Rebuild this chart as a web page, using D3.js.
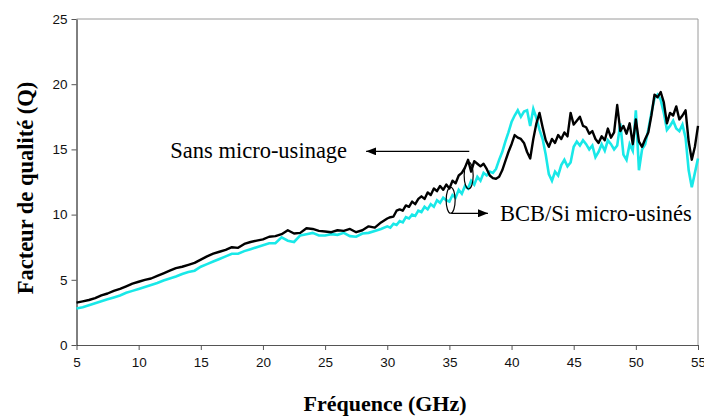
<!DOCTYPE html>
<html><head><meta charset="utf-8">
<script src="https://cdn.jsdelivr.net/npm/d3@7"></script>
<style>body{margin:0;background:#fff}svg{display:block}</style>
</head><body>
<svg id="chart" width="704" height="417"></svg>
<script>
// ---- data ----
const freqLow = [5,5.5,6,6.5,7,7.5,8,8.5,9,9.5,10,10.5,11,11.5,12,12.5,13,13.5,14,14.5,15,15.5,16,16.5,17,17.5,18,18.5,19,19.5,20,20.5,21,21.5,22,22.5,23,23.5,24,24.5,25,25.5,26,26.5,27,27.5,28,28.5,29,29.5,30];
const freqHigh = [30.25,30.5,30.75,31,31.25,31.5,31.75,32,32.25,32.5,32.75,33,33.25,33.5,33.75,34,34.25,34.5,34.75,35,35.25,35.5,35.75,36,36.25,36.5,36.75,37,37.25,37.5,37.75,38,38.25,38.5,38.75,39,39.25,39.5,39.75,40,40.25,40.5,40.75,41,41.25,41.5,41.75,42,42.25,42.5,42.75,43,43.25,43.5,43.75,44,44.25,44.5,44.75,45,45.25,45.5,45.75,46,46.25,46.5,46.75,47,47.25,47.5,47.75,48,48.25,48.5,48.75,49,49.25,49.5,49.75,50,50.25,50.5,50.75,51,51.25,51.5,51.75,52,52.25,52.5,52.75,53,53.25,53.5,53.75,54,54.25,54.5,54.75,55];
const qSansLow = [3.25,3.35,3.45,3.6,3.8,3.95,4.15,4.3,4.5,4.7,4.85,5.0,5.1,5.3,5.5,5.7,5.9,6.0,6.15,6.3,6.55,6.8,7.0,7.15,7.3,7.5,7.45,7.75,7.9,8.0,8.1,8.3,8.35,8.5,8.8,8.55,8.6,8.95,8.9,8.75,8.7,8.65,8.8,8.75,8.9,8.65,8.8,9.1,9.0,9.4,9.7];
const qSansHigh = [9.8,9.85,10.3,10.4,10.3,10.7,10.6,11.0,10.8,11.2,11.4,11.2,11.7,11.5,12.0,11.8,12.2,11.9,12.3,12.0,12.6,12.4,13.0,13.2,13.6,14.2,13.3,14.1,13.9,13.7,13.9,13.5,13.0,12.8,12.75,12.9,13.4,14.1,14.8,15.4,16.1,15.9,15.8,15.5,14.8,14.3,15.8,17.0,17.8,16.7,15.7,15.2,15.8,15.5,16.1,15.8,16.3,16.0,17.8,16.9,17.2,17.5,16.8,16.7,16.2,16.4,15.8,15.5,16.0,15.7,16.6,15.9,16.3,18.4,16.4,16.8,16.2,17.0,15.4,17.3,15.6,15.2,15.8,16.3,17.6,19.2,19.0,19.4,18.6,17.0,17.8,17.6,18.3,17.3,17.6,18.0,15.6,14.2,15.2,16.8];
const qBcbLow = [2.8,2.9,3.05,3.2,3.35,3.5,3.65,3.8,4.0,4.15,4.3,4.45,4.6,4.75,4.95,5.1,5.25,5.45,5.6,5.7,6.0,6.2,6.4,6.6,6.8,7.0,7.0,7.2,7.35,7.5,7.65,7.8,7.8,8.25,8.0,7.9,8.4,8.5,8.6,8.4,8.4,8.5,8.45,8.6,8.35,8.3,8.55,8.6,8.75,8.9,9.1];
const qBcbHigh = [9.0,9.3,9.2,9.5,9.4,9.8,9.7,10.0,9.9,10.3,10.2,10.6,10.4,10.8,10.6,11.1,10.9,11.3,11.1,11.0,11.5,11.3,11.9,11.6,12.2,12.0,12.6,12.3,12.9,12.6,13.2,13.0,13.3,13.2,13.5,14.2,14.8,15.6,16.3,17.1,17.6,18.0,17.5,17.9,18.0,16.8,18.1,17.4,16.5,15.8,14.6,13.1,12.6,13.3,13.0,13.8,14.2,13.7,14.0,15.2,15.6,15.3,15.7,15.4,15.0,15.3,14.4,14.8,15.4,14.9,15.7,15.4,15.0,15.3,17.0,14.6,14.2,15.4,14.9,18.0,13.4,15.0,15.4,16.5,17.8,18.9,19.2,18.8,17.8,16.5,16.8,17.2,16.6,16.4,16.9,15.9,13.4,12.1,13.2,14.3];
const xTicks = [5,10,15,20,25,30,35,40,45,50,55];
const yTicks = [0,5,10,15,20,25];
const labelSans = "Sans micro-usinage";
const labelBcb = "BCB/Si micro-usinés";
const xTitle = "Fréquence (GHz)";
const yTitle = "Facteur de qualité (Q)";

const freq = freqLow.concat(freqHigh);
const qSans = qSansLow.concat(qSansHigh);
const qBcb = qBcbLow.concat(qBcbHigh);

// ---- drawing ----
const svg = d3.select("#chart");
const L = 76.5, R = 698, T = 19, B = 345;
const x = d3.scaleLinear().domain([5,55]).range([L,R]);
const y = d3.scaleLinear().domain([0,25]).range([B,T]);

// frame (top & right)
svg.append("path").attr("d",`M${L},${T}H${R}V${B}`).attr("fill","none").attr("stroke","#9a9a9a").attr("stroke-width",1);

const xa = svg.append("g").attr("transform",`translate(0,${B})`)
  .call(d3.axisBottom(x).tickValues(xTicks).tickSize(5).tickSizeOuter(0).tickFormat(d3.format("d")));
xa.select(".domain").attr("stroke","#555");
xa.selectAll(".tick line").attr("stroke","#555");
xa.selectAll("text").attr("font-family","Liberation Sans, Arial, sans-serif").attr("font-size",13.5).attr("fill","#111").attr("dy","1.0em");

const ya = svg.append("g").attr("transform",`translate(${L},0)`)
  .call(d3.axisLeft(y).tickValues(yTicks).tickSize(5).tickSizeOuter(0).tickFormat(d3.format("d")));
ya.select(".domain").attr("stroke","#000");
ya.selectAll(".tick line").attr("stroke","#555");
ya.selectAll("text").attr("font-family","Liberation Sans, Arial, sans-serif").attr("font-size",13.5).attr("fill","#111").attr("x",-9);

const line = (arr) => d3.line().x((d,i)=>x(freq[i])).y((d)=>y(d))(arr);
svg.append("path").attr("d",line(qBcb)).attr("fill","none").attr("stroke","#19e8e8").attr("stroke-width",2.6).attr("stroke-linejoin","miter");
svg.append("path").attr("d",line(qSans)).attr("fill","none").attr("stroke","#000").attr("stroke-width",2.4).attr("stroke-linejoin","round");

// annotations
const defs = svg.append("defs");
defs.append("marker").attr("id","arr").attr("viewBox","0 0 10 8").attr("refX",10).attr("refY",4)
  .attr("markerWidth",10).attr("markerHeight",8).attr("markerUnits","userSpaceOnUse").attr("orient","auto")
  .append("path").attr("d","M0,0L10,4L0,8Z").attr("fill","#000");

// Sans micro-usinage
svg.append("ellipse").attr("cx",x(36.55)).attr("cy",y(13.0)).attr("rx",4.5).attr("ry",13.5).attr("fill","none").attr("stroke","#000").attr("stroke-width",1.2);
svg.append("path").attr("d",`M${x(36.6)},${y(14.85)}H${x(28.3)}`).attr("fill","none").attr("stroke","#000").attr("stroke-width",1.2).attr("marker-end","url(#arr)");
svg.append("text").attr("x",x(28.3)-19).attr("y",y(14.85)+6.5).attr("text-anchor","end")
  .attr("font-family","Liberation Serif, Times New Roman, serif").attr("font-size",22.5).text(labelSans);

// BCB/Si
svg.append("ellipse").attr("cx",x(35.1)).attr("cy",y(11.1)).attr("rx",4.5).attr("ry",13).attr("fill","none").attr("stroke","#000").attr("stroke-width",1.2);
svg.append("path").attr("d",`M${x(35.15)},${y(10.1)}H${x(38.1)}`).attr("fill","none").attr("stroke","#000").attr("stroke-width",1.2).attr("marker-end","url(#arr)");
svg.append("text").attr("x",x(38.1)+12).attr("y",y(10.1)+7.5).attr("text-anchor","start")
  .attr("font-family","Liberation Serif, Times New Roman, serif").attr("font-size",22.5).text(labelBcb);

// axis titles
svg.append("text").attr("x",385).attr("y",411).attr("text-anchor","middle")
  .attr("font-family","Liberation Serif, Times New Roman, serif").attr("font-weight","bold").attr("font-size",22).text(xTitle);
svg.append("text").attr("transform",`translate(33,188) rotate(-90)`).attr("text-anchor","middle")
  .attr("font-family","Liberation Serif, Times New Roman, serif").attr("font-weight","bold").attr("font-size",22.5).text(yTitle);
</script>
</body></html>
